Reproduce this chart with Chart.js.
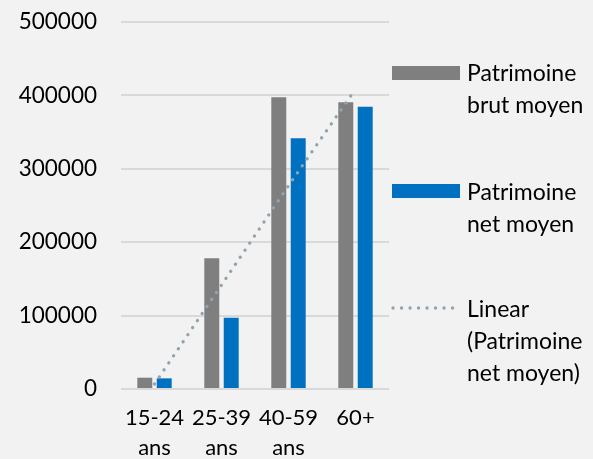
<!DOCTYPE html>
<html>
<head>
<meta charset="utf-8">
<script src="https://cdn.jsdelivr.net/npm/chart.js@4/dist/chart.umd.min.js"></script>
<style>
  html, body { margin: 0; padding: 0; background: #f2f2f2; }
  #wrap { width: 593px; height: 459px; position: relative; }
</style>
</head>
<body>
<div id="wrap"><canvas id="c" width="593" height="459"></canvas></div>
<script>
// ---- Data ----
const categories = [["15-24", "ans"], ["25-39", "ans"], ["40-59", "ans"], ["60+"]];
const brutMoyen = [15400, 178000, 397500, 390500];
const netMoyen = [14500, 97000, 341500, 384500];
const trendNet = [6800, 141700, 277000, 408700];
const seriesNames = [
  ["Patrimoine", "brut moyen"],
  ["Patrimoine", "net moyen"],
  ["Linear", "(Patrimoine", "net moyen)"]
];
const yTicks = [0, 100000, 200000, 300000, 400000, 500000];

const FONT = "Lato, 'Open Sans', sans-serif";
const GRAY = "#7f7f7f";
const BLUE = "#0070c0";
const TREND = "#8fa4af";

const legendPlugin = {
  id: "sideLegend",
  afterDraw(chart, args, opts) {
    const ctx = chart.ctx;
    const items = opts.items;
    ctx.save();
    ctx.font = opts.fontSize + "px " + FONT;
    ctx.fillStyle = "#000";
    ctx.textBaseline = "middle";
    ctx.textAlign = "left";
    items.forEach((it, i) => {
      const ds = chart.data.datasets[i];
      const y0 = it.y;
      if (ds.type === "line") {
        ctx.strokeStyle = ds.borderColor;
        ctx.lineWidth = ds.borderWidth;
        ctx.lineCap = "round";
        ctx.setLineDash(ds.borderDash);
        ctx.beginPath();
        ctx.moveTo(opts.boxX + 1, y0);
        ctx.lineTo(opts.boxX + opts.boxW, y0);
        ctx.stroke();
        ctx.setLineDash([]);
      } else {
        ctx.fillStyle = ds.backgroundColor;
        ctx.fillRect(opts.boxX, y0 - 7, opts.boxW, 14);
        ctx.fillStyle = "#000";
      }
      seriesNames[i].forEach((line, j) => {
        ctx.fillText(line, opts.textX, it.textY + j * opts.lineH);
      });
    });
    ctx.restore();
  }
};

new Chart(document.getElementById("c"), {
  type: "bar",
  data: {
    labels: categories,
    datasets: [
      {
        label: seriesNames[0].join(" "),
        data: brutMoyen,
        backgroundColor: GRAY,
        categoryPercentage: 0.58,
        barPercentage: 0.77,
        order: 2
      },
      {
        label: seriesNames[1].join(" "),
        data: netMoyen,
        backgroundColor: BLUE,
        categoryPercentage: 0.58,
        barPercentage: 0.77,
        order: 2
      },
      {
        type: "line",
        label: seriesNames[2].join(" "),
        data: trendNet,
        borderColor: TREND,
        borderWidth: 3.3,
        borderDash: [0.1, 8.4],
        borderCapStyle: "round",
        pointRadius: 0,
        tension: 0,
        fill: false,
        order: 1
      }
    ]
  },
  options: {
    responsive: false,
    animation: false,
    devicePixelRatio: 1,
    layout: { padding: { top: 22, right: 204, left: 0, bottom: 0 } },
    plugins: {
      legend: { display: false },
      tooltip: { enabled: false },
      sideLegend: {
        items: [
          { y: 73, textY: 74 },
          { y: 191, textY: 193 },
          { y: 308, textY: 310 }
        ],
        boxX: 392, boxW: 68, textX: 467, lineH: 32, fontSize: 23
      }
    },
    scales: {
      x: {
        grid: { display: false, drawTicks: false },
        border: { display: false },
        ticks: {
          color: "#000",
          font: { family: FONT, size: 22, lineHeight: 1.36 },
          padding: 14,
          maxRotation: 0,
          autoSkip: false
        },
        afterFit(scale) { scale.height = 70; }
      },
      y: {
        min: 0,
        max: 500000,
        afterBuildTicks(scale) { scale.ticks = yTicks.map(v => ({ value: v })); },
        grid: { color: "#d9d9d9", lineWidth: 2, drawTicks: false },
        border: { display: false },
        ticks: {
          color: "#000",
          font: { family: FONT, size: 22.5 },
          padding: 24,
          callback: v => String(v)
        },
        afterFit(scale) {
          scale.width = 121;
          scale.paddingTop = 0;
          scale.paddingBottom = 0;
        }
      }
    }
  },
  plugins: [legendPlugin]
});
</script>
</body>
</html>
